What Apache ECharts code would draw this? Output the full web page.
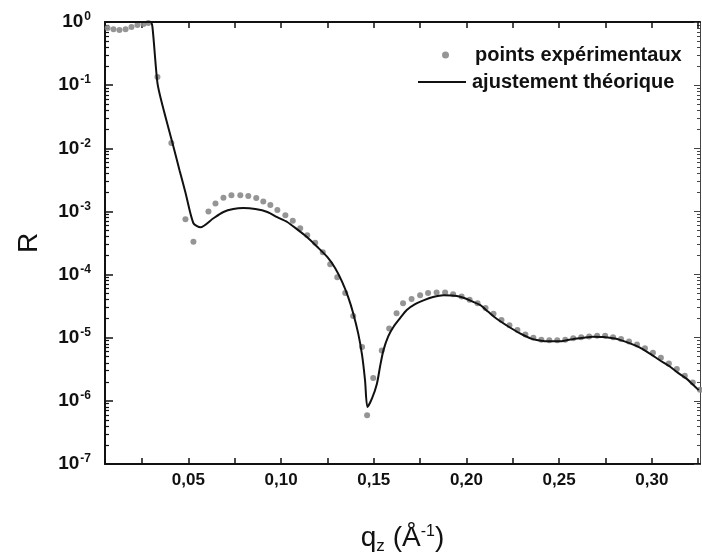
<!DOCTYPE html>
<html>
<head>
<meta charset="utf-8">
<script src="https://cdn.jsdelivr.net/npm/echarts@6/dist/echarts.min.js"></script>
<style>
  html, body { margin: 0; padding: 0; background: #fff; }
  #chart { width: 702px; height: 556px; }
</style>
</head>
<body>
<div id="chart"></div>
<script>
// q_z (Å^-1) et R
const pointsQ = [0.0064, 0.0096, 0.0128, 0.0161, 0.0193, 0.0225, 0.0258, 0.0284,
  0.0333, 0.0408, 0.0484, 0.0527,
  0.0608, 0.0646, 0.0689, 0.0732, 0.0780, 0.0823, 0.0866, 0.0904, 0.0942, 0.0980,
  0.1023, 0.1063, 0.1103, 0.1141, 0.1184, 0.1225, 0.1265, 0.1303, 0.1346, 0.1389,
  0.1437, 0.1464, 0.1497, 0.1543, 0.1583, 0.1623, 0.1658, 0.1704, 0.1750, 0.1793,
  0.1839, 0.1885, 0.1928, 0.1974,
  0.2017, 0.2060, 0.2103, 0.2146, 0.2189, 0.2232, 0.2275, 0.2318, 0.2361, 0.2404,
  0.2447, 0.2490, 0.2533, 0.2576, 0.2619, 0.2662, 0.2705, 0.2748, 0.2791, 0.2834,
  0.2877, 0.2920, 0.2963, 0.3006, 0.3049, 0.3092, 0.3135, 0.3178, 0.3221, 0.3260];
const pointsR = [0.80, 0.77, 0.75, 0.77, 0.83, 0.90, 0.93, 0.96,
  0.134, 0.0121, 7.5e-4, 3.3e-4,
  1.0e-3, 1.33e-3, 1.65e-3, 1.81e-3, 1.81e-3, 1.75e-3, 1.63e-3, 1.43e-3, 1.26e-3, 1.05e-3,
  8.7e-4, 7.1e-4, 5.4e-4, 4.2e-4, 3.2e-4, 2.26e-4, 1.46e-4, 9.1e-5, 5.1e-5, 2.2e-5,
  7.1e-6, 5.9e-7, 2.3e-6, 6.3e-6, 1.4e-5, 2.45e-5, 3.5e-5, 4.1e-5, 4.7e-5, 5.1e-5,
  5.2e-5, 5.2e-5, 4.9e-5, 4.5e-5,
  4.0e-5, 3.5e-5, 2.95e-5, 2.4e-5, 1.9e-5, 1.58e-5, 1.32e-5, 1.12e-5, 1.0e-5, 9.3e-6,
  9.1e-6, 9.1e-6, 9.3e-6, 9.8e-6, 1.02e-5, 1.05e-5, 1.07e-5, 1.07e-5, 1.02e-5, 9.5e-6,
  8.7e-6, 7.8e-6, 6.8e-6, 5.8e-6, 4.8e-6, 3.9e-6, 3.2e-6, 2.5e-6, 1.95e-6, 1.5e-6];

const fitQ = [0.0053, 0.0295, 0.0306, 0.0333, 0.0360, 0.0414, 0.0452, 0.0484, 0.0527,
  0.0565, 0.0635, 0.0689, 0.0742, 0.0796, 0.0861, 0.0926, 0.0979, 0.1033, 0.1087,
  0.1141, 0.1195, 0.1249, 0.1292, 0.1330, 0.1362, 0.1389, 0.1416, 0.1437, 0.1453,
  0.1466, 0.1491, 0.1517, 0.1534, 0.1552, 0.1578, 0.1606, 0.1642, 0.1678, 0.1723,
  0.1768, 0.1820, 0.1876, 0.1922, 0.1966, 0.2019, 0.2073, 0.2116, 0.2163, 0.2224,
  0.2289, 0.2353, 0.2414, 0.2467, 0.2522, 0.2574, 0.2630, 0.2682, 0.2738, 0.2801,
  0.2864, 0.2925, 0.2989, 0.3043, 0.3097, 0.3140, 0.3187, 0.3220, 0.3253];
const fitR = [1.0, 1.0, 0.83, 0.108, 0.048, 0.0121, 4.5e-3, 2.0e-3, 6.5e-4,
  5.6e-4, 7.8e-4, 9.8e-4, 1.09e-3, 1.13e-3, 1.09e-3, 9.8e-4, 8.1e-4, 6.8e-4, 5.2e-4,
  3.9e-4, 2.75e-4, 1.9e-4, 1.26e-4, 7.6e-5, 4.4e-5, 2.45e-5, 1.17e-5, 5.3e-6, 2.1e-6,
  8.0e-7, 1.1e-6, 1.87e-6, 3.5e-6, 6.3e-6, 1.05e-5, 1.48e-5, 2.04e-5, 2.75e-5, 3.4e-5,
  3.9e-5, 4.4e-5, 4.7e-5, 4.65e-5, 4.45e-5, 3.9e-5, 3.3e-5, 2.6e-5, 2.0e-5, 1.52e-5,
  1.17e-5, 9.6e-6, 8.9e-6, 8.8e-6, 8.9e-6, 9.5e-6, 1.0e-5, 1.04e-5, 1.03e-5, 9.7e-6,
  8.5e-6, 7.2e-6, 5.6e-6, 4.4e-6, 3.5e-6, 2.8e-6, 2.25e-6, 1.83e-6, 1.48e-6];

const xTicks = [0.025, 0.05, 0.075, 0.10, 0.125, 0.15, 0.175, 0.20, 0.225, 0.25, 0.275, 0.30, 0.325];
const xLabels = [0.05, 0.10, 0.15, 0.20, 0.25, 0.30];

const fontFam = '"Liberation Sans", Arial, sans-serif';
const chart = echarts.init(document.getElementById('chart'), null, { renderer: 'canvas' });

const legendText = { fontSize: 20, fontWeight: 'bold', color: '#111', fontFamily: fontFam };

const option = {
  backgroundColor: '#fff',
  animation: false,
  textStyle: { fontFamily: fontFam },
  grid: { left: 105, right: 2, top: 22, bottom: 92, outerBoundsMode: 'none' },
  legend: [
    {
      data: [{ name: 'points expérimentaux', icon: 'circle' }],
      left: 437, top: 40,
      itemWidth: 7, itemHeight: 7,
      textStyle: Object.assign({ padding: [0, 0, 0, 21] }, legendText)
    },
    {
      data: [{ name: 'ajustement théorique', icon: 'rect' }],
      left: 413, top: 67,
      itemWidth: 48, itemHeight: 2,
      textStyle: Object.assign({ padding: [0, 0, 0, 1] }, legendText)
    }
  ],
  xAxis: [
    {
      type: 'value', min: 0.005, max: 0.326,
      name: '{a|q}{s|z}{a| (Å}{e|-1}{a|)}',
      nameLocation: 'middle', nameGap: 58,
      nameTextStyle: {
        color: '#111',
        rich: {
          a: { fontSize: 28, fontFamily: fontFam, color: '#111' },
          s: { fontSize: 17, fontFamily: fontFam, color: '#111', padding: [16, 0, 0, 0] },
          e: { fontSize: 16, fontFamily: fontFam, color: '#111', padding: [0, 0, 13, 0] }
        }
      },
      axisLine: { lineStyle: { color: '#111', width: 2 } },
      axisTick: { inside: true, length: 6, customValues: xTicks, lineStyle: { color: '#111', width: 1.5 } },
      axisLabel: {
        customValues: xLabels, margin: 8,
        fontSize: 17, fontWeight: 'bold', color: '#111', fontFamily: fontFam,
        formatter: v => v.toFixed(2).replace('.', ',')
      },
      splitLine: { show: false }
    },
    {
      type: 'value', min: 0.005, max: 0.326, position: 'top',
      axisLine: { lineStyle: { color: '#111', width: 2 } },
      axisTick: { inside: true, length: 6, customValues: xTicks, lineStyle: { color: '#111', width: 1.5 } },
      axisLabel: { show: false },
      splitLine: { show: false }
    }
  ],
  yAxis: [
    {
      type: 'log', logBase: 10, min: 1e-7, max: 1, splitNumber: 7,
      name: 'R', nameLocation: 'middle', nameGap: 62, nameRotate: 90,
      nameTextStyle: { fontSize: 28, color: '#111', fontFamily: fontFam },
      axisLine: { lineStyle: { color: '#111', width: 2 } },
      axisTick: { inside: true, length: 8, lineStyle: { color: '#111', width: 1.5 } },
      minorTick: { show: true, splitNumber: 9, length: 4, lineStyle: { color: '#111', width: 1.2 } },
      axisLabel: {
        margin: 14,
        formatter: v => '{b|10}{e|' + Math.round(Math.log10(v)) + '}',
        rich: {
          b: { fontSize: 19, fontWeight: 'bold', color: '#111', fontFamily: fontFam },
          e: { fontSize: 12, fontWeight: 'bold', color: '#111', fontFamily: fontFam, padding: [0, 0, 10, 1] }
        }
      },
      splitLine: { show: false }
    },
    {
      type: 'log', logBase: 10, min: 1e-7, max: 1, position: 'right', splitNumber: 7,
      axisLine: { lineStyle: { color: '#444', width: 1 } },
      axisTick: { inside: true, length: 6, lineStyle: { color: '#444' } },
      minorTick: { show: true, splitNumber: 9, length: 3, lineStyle: { color: '#444' } },
      axisLabel: { show: false },
      splitLine: { show: false }
    }
  ],
  series: [
    {
      name: 'points expérimentaux',
      type: 'scatter',
      data: pointsQ.map((q, i) => [q, pointsR[i]]),
      symbolSize: 6,
      itemStyle: { color: '#8a8a8a', opacity: 0.9 },
      z: 2
    },
    {
      name: 'ajustement théorique',
      type: 'line',
      data: fitQ.map((q, i) => [q, fitR[i]]),
      showSymbol: false, symbol: 'none',
      smooth: 0.25,
      lineStyle: { color: '#111', width: 2 },
      itemStyle: { color: '#111' },
      z: 3
    }
  ]
};

chart.setOption(option);
</script>
</body>
</html>
